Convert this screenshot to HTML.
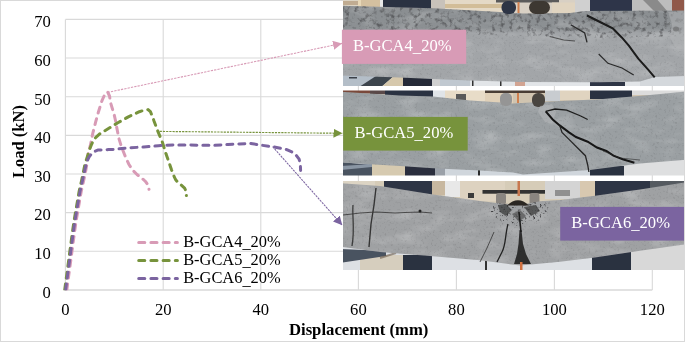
<!DOCTYPE html>
<html><head><meta charset="utf-8"><style>html,body{margin:0;padding:0;background:#fff;width:685px;height:343px;overflow:hidden}svg{display:block}svg{will-change:transform}</style></head>
<body>
<svg width="685" height="343" viewBox="0 0 685 343">
<defs>
<clipPath id="c1"><rect x="343" y="0" width="341" height="86"/></clipPath>
<clipPath id="c2"><rect x="343" y="90.5" width="341" height="85"/></clipPath>
<clipPath id="c3"><rect x="343" y="181" width="341" height="89"/></clipPath>
<marker id="ap" viewBox="0 0 10 10" refX="10" refY="5" markerWidth="9" markerHeight="9" markerUnits="userSpaceOnUse" orient="auto"><path d="M0,0 L10,5 L0,10 z" fill="#d89bb6"/></marker>
<marker id="ag" viewBox="0 0 10 10" refX="10" refY="5" markerWidth="9" markerHeight="9" markerUnits="userSpaceOnUse" orient="auto"><path d="M0,0 L10,5 L0,10 z" fill="#77933c"/></marker>
<marker id="au" viewBox="0 0 10 10" refX="10" refY="5" markerWidth="9" markerHeight="9" markerUnits="userSpaceOnUse" orient="auto"><path d="M0,0 L10,5 L0,10 z" fill="#7b64a0"/></marker>
</defs>
<rect x="0" y="0" width="685" height="343" fill="#fff"/>
<rect x="0.5" y="0.5" width="684" height="341" fill="#fff" stroke="#d9d9d9" stroke-width="1"/>
<line x1="163.2" y1="19.41999999999996" x2="163.2" y2="289.9" stroke="#d9d9d9" stroke-width="1.1"/>
<line x1="260.8" y1="19.41999999999996" x2="260.8" y2="289.9" stroke="#d9d9d9" stroke-width="1.1"/>
<line x1="358.4" y1="19.41999999999996" x2="358.4" y2="289.9" stroke="#d9d9d9" stroke-width="1.1"/>
<line x1="456.4" y1="19.41999999999996" x2="456.4" y2="289.9" stroke="#d9d9d9" stroke-width="1.1"/>
<line x1="554.4" y1="19.41999999999996" x2="554.4" y2="289.9" stroke="#d9d9d9" stroke-width="1.1"/>
<line x1="652.3" y1="19.41999999999996" x2="652.3" y2="289.9" stroke="#d9d9d9" stroke-width="1.1"/>
<line x1="65.4" y1="251.26" x2="652.3" y2="251.26" stroke="#d9d9d9" stroke-width="1.1"/>
<line x1="65.4" y1="212.62" x2="652.3" y2="212.62" stroke="#d9d9d9" stroke-width="1.1"/>
<line x1="65.4" y1="173.98" x2="652.3" y2="173.98" stroke="#d9d9d9" stroke-width="1.1"/>
<line x1="65.4" y1="135.34" x2="652.3" y2="135.34" stroke="#d9d9d9" stroke-width="1.1"/>
<line x1="65.4" y1="96.70" x2="652.3" y2="96.70" stroke="#d9d9d9" stroke-width="1.1"/>
<line x1="65.4" y1="58.06" x2="652.3" y2="58.06" stroke="#d9d9d9" stroke-width="1.1"/>
<line x1="65.4" y1="19.42" x2="652.3" y2="19.42" stroke="#d9d9d9" stroke-width="1.1"/>
<line x1="65.4" y1="19.41999999999996" x2="65.4" y2="289.9" stroke="#d9d9d9" stroke-width="1.1"/>
<line x1="65.4" y1="289.9" x2="652.3" y2="289.9" stroke="#d9d9d9" stroke-width="1.5"/>
<text x="50.8" y="297.7" font-family="Liberation Serif, serif" font-size="16.6" text-anchor="end" fill="#000">0</text>
<text x="50.8" y="259.1" font-family="Liberation Serif, serif" font-size="16.6" text-anchor="end" fill="#000">10</text>
<text x="50.8" y="220.4" font-family="Liberation Serif, serif" font-size="16.6" text-anchor="end" fill="#000">20</text>
<text x="50.8" y="181.8" font-family="Liberation Serif, serif" font-size="16.6" text-anchor="end" fill="#000">30</text>
<text x="50.8" y="143.1" font-family="Liberation Serif, serif" font-size="16.6" text-anchor="end" fill="#000">40</text>
<text x="50.8" y="104.5" font-family="Liberation Serif, serif" font-size="16.6" text-anchor="end" fill="#000">50</text>
<text x="50.8" y="65.9" font-family="Liberation Serif, serif" font-size="16.6" text-anchor="end" fill="#000">60</text>
<text x="50.8" y="27.2" font-family="Liberation Serif, serif" font-size="16.6" text-anchor="end" fill="#000">70</text>
<text x="65.4" y="315.0" font-family="Liberation Serif, serif" font-size="16.6" text-anchor="middle" fill="#000">0</text>
<text x="163.2" y="315.0" font-family="Liberation Serif, serif" font-size="16.6" text-anchor="middle" fill="#000">20</text>
<text x="260.8" y="315.0" font-family="Liberation Serif, serif" font-size="16.6" text-anchor="middle" fill="#000">40</text>
<text x="358.4" y="315.0" font-family="Liberation Serif, serif" font-size="16.6" text-anchor="middle" fill="#000">60</text>
<text x="456.4" y="315.0" font-family="Liberation Serif, serif" font-size="16.6" text-anchor="middle" fill="#000">80</text>
<text x="554.4" y="315.0" font-family="Liberation Serif, serif" font-size="16.6" text-anchor="middle" fill="#000">100</text>
<text x="652.3" y="315.0" font-family="Liberation Serif, serif" font-size="16.6" text-anchor="middle" fill="#000">120</text>
<text x="358.7" y="334.5" font-family="Liberation Serif, serif" font-size="16.7" font-weight="bold" text-anchor="middle" fill="#000">Displacement (mm)</text>
<text transform="translate(23.8,141.5) rotate(-90)" font-family="Liberation Serif, serif" font-size="16.5" font-weight="bold" text-anchor="middle" fill="#000">Load (kN)</text>
<line x1="138.7" y1="242.4" x2="177.4" y2="242.4" stroke="#d89bb6" stroke-width="3" stroke-linecap="round" stroke-dasharray="6.1 6.1"/>
<text x="183.2" y="246.9" font-family="Liberation Serif, serif" font-size="16.4" fill="#000">B-GCA4<tspan dy="1.5">_</tspan><tspan dy="-1.5">20%</tspan></text>
<line x1="138.7" y1="260.4" x2="177.4" y2="260.4" stroke="#77933c" stroke-width="3" stroke-linecap="round" stroke-dasharray="6.1 6.1"/>
<text x="183.2" y="264.9" font-family="Liberation Serif, serif" font-size="16.4" fill="#000">B-GCA5<tspan dy="1.5">_</tspan><tspan dy="-1.5">20%</tspan></text>
<line x1="138.7" y1="278.5" x2="177.4" y2="278.5" stroke="#7b64a0" stroke-width="3" stroke-linecap="round" stroke-dasharray="6.1 6.1"/>
<text x="183.2" y="283.0" font-family="Liberation Serif, serif" font-size="16.4" fill="#000">B-GCA6<tspan dy="1.5">_</tspan><tspan dy="-1.5">20%</tspan></text>
<defs>
<filter id="tex" x="0" y="0" width="100%" height="100%" color-interpolation-filters="sRGB">
 <feTurbulence type="fractalNoise" baseFrequency="0.45" numOctaves="2" seed="3" result="n"/>
 <feColorMatrix in="n" type="matrix" values="0 0 0 0 0.25  0 0 0 0 0.25  0 0 0 0 0.26  4.5 0 0 0 -2.55" result="d"/>
 <feComposite in="d" in2="SourceGraphic" operator="in"/>
</filter>
<filter id="rough" x="0" y="0" width="100%" height="100%" color-interpolation-filters="sRGB">
 <feTurbulence type="fractalNoise" baseFrequency="0.22" numOctaves="3" seed="5" result="n"/>
 <feColorMatrix in="n" type="matrix" values="0 0 0 0 0.22  0 0 0 0 0.22  0 0 0 0 0.23  3.2 0 0 0 -1.6" result="d"/>
 <feGaussianBlur in="d" stdDeviation="0.5" result="db"/>
 <feComposite in="db" in2="SourceGraphic" operator="in"/>
</filter>
<filter id="mot" x="0" y="0" width="100%" height="100%" color-interpolation-filters="sRGB">
 <feTurbulence type="fractalNoise" baseFrequency="0.04 0.09" numOctaves="3" seed="7" result="n"/>
 <feColorMatrix in="n" type="matrix" values="0 0 0 0 1  0 0 0 0 1  0 0 0 0 1  0 2 0 0 -0.9" result="d"/>
 <feComposite in="d" in2="SourceGraphic" operator="in"/>
</filter>
<filter id="soft" x="-2%" y="-2%" width="104%" height="104%"><feGaussianBlur stdDeviation="0.6"/></filter>
<linearGradient id="b1" gradientUnits="userSpaceOnUse" x1="0" y1="6" x2="0" y2="80">
 <stop offset="0" stop-color="#8a8e91"/><stop offset="0.3" stop-color="#8c9093"/><stop offset="0.37" stop-color="#a1a4a7"/><stop offset="1" stop-color="#a3a6a9"/>
</linearGradient>
</defs>
<g clip-path="url(#c1)"><g filter="url(#soft)">
 <rect x="340" y="-3" width="347" height="92" fill="#d8d0c4"/>
 <rect x="340" y="-3" width="18" height="13" fill="#dcd4c4"/>
 <rect x="340" y="1" width="18" height="4" fill="#c0ac92"/>
 <rect x="358" y="-3" width="3" height="13" fill="#e8d8b8"/>
 <rect x="361" y="-3" width="19" height="13" fill="#d4c0a0"/>
 <rect x="380" y="-3" width="3" height="13" fill="#e8e8e8"/>
 <rect x="383" y="-3" width="48" height="15" fill="#2b3142"/>
 <rect x="431" y="-3" width="14" height="15" fill="#c8c2ba"/>
 <rect x="445" y="-3" width="60" height="17" fill="#e4d9c6"/>
 <rect x="445" y="4" width="60" height="4" fill="#d2bd98"/>
 <rect x="496" y="-3" width="63" height="5.5" fill="#5a5a5a"/>
 <rect x="552" y="2.5" width="23" height="12" fill="#e0d4c0"/>
 <rect x="575" y="-3" width="15" height="17" fill="#d0d0d0"/>
 <rect x="590" y="-3" width="42" height="15" fill="#2e3648"/>
 <rect x="632" y="-3" width="40" height="15" fill="#bdbdbd"/>
 <polygon points="640,-3 655,-3 668,12 655,12" fill="#8a8a8a"/>
 <rect x="672" y="-3" width="15" height="15" fill="#905848"/>
 <rect x="340" y="70" width="347" height="19" fill="#e2e5e8"/>
 <rect x="340" y="70" width="40" height="19" fill="#b4bec8"/>
 <rect x="349" y="77" width="8" height="1.5" fill="#3a4048"/>
 <polygon points="356,89 376,76 394,76 379,89" fill="#3e454e"/>
 <polygon points="379,89 394,76 403,76 403,89" fill="#d6c8ac"/>
 <rect x="403" y="76" width="29" height="13" fill="#282c38"/>
 <rect x="432" y="76" width="8" height="13" fill="#d0d0d0"/>
 <rect x="440" y="76" width="30" height="13" fill="#c0c8d0"/>
 <rect x="472" y="78" width="1.5" height="8" fill="#333"/>
 <rect x="500" y="78" width="1.5" height="8" fill="#333"/>
 <rect x="640" y="72" width="47" height="17" fill="#d4d8dc"/>
 <rect x="590" y="82" width="35" height="7" fill="#2e3444"/>
 <rect x="515" y="81" width="10" height="5" fill="#c87858" opacity="0.6"/>
 <path id="bm1" d="M340,5.6 L433,8.2 L500,12 L523,13.5 L570,13 L585,11 L687,10.5 L687,76 L655,77 L640,81.5 L600,82.3 L520,82 L470,80.5 L433,79 L400,77.5 L340,75.5 Z" fill="url(#b1)"/>
 <path d="M340,5.6 L433,8.2 L500,12 L523,13.5 L570,13 L585,11 L687,10.5 L687,76 L655,77 L640,81.5 L600,82.3 L520,82 L470,80.5 L433,79 L400,77.5 L340,75.5 Z" fill="#000" filter="url(#mot)" opacity="0.22"/>
 <path d="M340,5.6 L433,8.2 L500,12 L523,13.5 L570,13 L585,11 L687,10.5 L687,36 L600,38 L520,36 L433,33 L340,31 Z" fill="#000" filter="url(#rough)" opacity="0.55"/>
 <path d="M340,31 L433,33 L520,36 L600,38 L687,36 L687,76 L655,77 L640,81.5 L600,82.3 L520,82 L470,80.5 L433,79 L400,77.5 L340,75.5 Z" fill="#000" filter="url(#tex)" opacity="0.1"/>
 <rect x="501.5" y="1" width="14.5" height="13" rx="6" fill="#2e3444"/>
 <rect x="517.5" y="2" width="2" height="11" fill="#d08050"/>
 <rect x="529" y="1" width="21" height="13" rx="6.5" fill="#3e3832"/>
 <path d="M587,15.5 L601,22.5 L612.7,28.3 L622,37.7 L629,45.8 L638.3,58.7 L647.7,69.2 L654.7,77.3" stroke="#1a1a1a" stroke-width="2" fill="none"/>
 <path d="M570.7,24.8 L584.7,33 L587,42.3" stroke="#2a2a2a" stroke-width="1.3" fill="none"/>
 <path d="M549.7,36.5 L563.7,40 L575,41" stroke="#3a3a3a" stroke-width="1.1" fill="none" opacity="0.8"/>
 <path d="M598.7,54 L608,63.3 L622,68 L633.7,75" stroke="#2a2a2a" stroke-width="1.2" fill="none"/>
 <ellipse cx="676" cy="29" rx="3" ry="2.5" fill="#333" opacity="0.8"/>
 <path d="M668,12 L684,11 L684,50 L676,48 L670,38 L672,24 Z" fill="#b4b6b8" opacity="0.5"/>
</g></g>
<g clip-path="url(#c2)"><g filter="url(#soft)">
 <rect x="340" y="88" width="347" height="91" fill="#d0c4b0"/>
 <rect x="340" y="88" width="30" height="5.5" fill="#7a4a3a"/>
 <rect x="370" y="88" width="15" height="6" fill="#5a4a48"/>
 <rect x="385" y="88" width="48" height="9.5" fill="#2c3242"/>
 <rect x="433" y="88" width="12" height="12" fill="#e0e4e8"/>
 <rect x="445" y="88" width="40" height="14" fill="#e8dcc8"/>
 <rect x="456" y="94" width="10" height="6" fill="#5a5a5a"/>
 <rect x="485" y="88" width="28" height="16" fill="#e0d0b8"/>
 <rect x="485" y="88" width="60" height="5" fill="#4a3e36"/>
 <rect x="517" y="93" width="2" height="10" fill="#d08050"/>
 <rect x="545" y="88" width="15" height="13" fill="#c8ccd0"/>
 <rect x="560" y="88" width="30" height="12" fill="#e0d4c0"/>
 <rect x="590" y="88" width="42" height="11" fill="#2a3242"/>
 <rect x="632" y="88" width="55" height="7" fill="#dcdcdc"/>
 <rect x="340" y="158" width="347" height="21" fill="#d0d6dc"/>
 <polygon points="340,162 372,165 372,179 340,179" fill="#4a5260"/>
 <polygon points="340,166 372,164 372,167 340,170" fill="#8a96a4"/>
 <rect x="372" y="164" width="33" height="15" fill="#d6cab0"/>
 <rect x="405" y="165" width="30" height="14" fill="#2a2e3c"/>
 <rect x="435" y="165" width="10" height="14" fill="#9aa0a8"/>
 <rect x="478" y="168" width="2" height="10" fill="#2a2a2a"/>
 <rect x="590" y="166" width="35" height="13" fill="#2a3040"/>
 <rect x="624" y="158" width="63" height="21" fill="#dedfe0"/>
 <path d="M340,91.6 L400,95.4 L433,96.5 L470,100.4 L513,103.4 L545,101.8 L600,99.3 L650,95 L687,91.5 L687,159.7 L640,163.6 L590,170 L523,174.5 L513,172.5 L480,170.5 L433,168.2 L400,166 L340,162.4 Z" fill="#9a9fa2"/>
 <path d="M340,91.6 L400,95.4 L433,96.5 L470,100.4 L513,103.4 L545,101.8 L600,99.3 L650,95 L687,91.5 L687,159.7 L640,163.6 L590,170 L523,174.5 L513,172.5 L480,170.5 L433,168.2 L400,166 L340,162.4 Z" fill="#000" filter="url(#mot)" opacity="0.22"/>
 <path d="M340,91.6 L400,95.4 L433,96.5 L470,100.4 L513,103.4 L545,101.8 L600,99.3 L650,95 L687,91.5 L687,159.7 L640,163.6 L590,170 L523,174.5 L513,172.5 L480,170.5 L433,168.2 L400,166 L340,162.4 Z" fill="#000" filter="url(#tex)" opacity="0.12"/>
 <rect x="500" y="93" width="12" height="13" rx="5" fill="#959595"/>
 <rect x="532" y="93" width="13" height="14" rx="6" fill="#4a4440"/>
 <path d="M540,106 L552,104 L556,112 L552,124 L545,122 L538,112 Z" fill="#b8babc" opacity="0.5"/>
 <path d="M545.7,111.3 L555,109 L566.7,110.2 L580.7,116 L587.7,119.5" stroke="#1e1e1e" stroke-width="1.3" fill="none"/>
 <path d="M545.7,111.3 L552.7,119.5 L559.7,125.4 L569,132.4 L576,137 L587.7,141.7 L597,147.5 L606.4,151 L613.4,155.7 L622.7,159.2 L634.4,162.7" stroke="#161616" stroke-width="2" fill="none"/>
 <path d="M559.7,125.4 L562,132.4 L569,139.4 L578.4,148.7 L585.4,155.7 L587.7,165 L588.9,172" stroke="#262626" stroke-width="1.3" fill="none"/>
 <path d="M603,151 L620,158 L640,160" stroke="#2a2a2a" stroke-width="1" fill="none" opacity="0.6"/>
</g></g>
<g clip-path="url(#c3)"><g filter="url(#soft)">
 <rect x="340" y="178" width="347" height="95" fill="#d6ccb8"/>
 <rect x="340" y="178" width="35" height="11" fill="#dcd4c4"/>
 <rect x="384" y="178" width="48" height="17" fill="#2e3444"/>
 <rect x="432" y="178" width="13" height="17" fill="#c8b8a0"/>
 <rect x="445" y="178" width="15" height="19" fill="#e8e8e8"/>
 <rect x="460" y="178" width="45" height="23" fill="#ddd2c0"/>
 <rect x="468" y="193" width="6" height="5" fill="#3a3a3a"/>
 <rect x="482.5" y="190" width="69.5" height="3.7" fill="#303030"/>
 <rect x="517.5" y="178" width="2.5" height="18" fill="#c87850"/>
 <rect x="496" y="193" width="10" height="12" rx="3" fill="#8a8580"/>
 <rect x="529.5" y="193" width="10" height="12" rx="3" fill="#8a8580"/>
 <rect x="545" y="178" width="35" height="21" fill="#d4d4d4"/>
 <rect x="555" y="190" width="15" height="6" fill="#909090"/>
 <rect x="580" y="178" width="15" height="19" fill="#d8c8b0"/>
 <rect x="595" y="178" width="55" height="18" fill="#2e3444"/>
 <rect x="650" y="178" width="37" height="11" fill="#555a60"/>
 <rect x="340" y="244" width="347" height="29" fill="#dde0e4"/>
 <rect x="360" y="255" width="43" height="18" fill="#d6cebe"/>
 <polygon points="340,249 386,251 386,256 340,263" fill="#4a5260"/>
 <path d="M380,258 L396,253" stroke="#6a5a4a" stroke-width="2" opacity="0.6"/>
 <rect x="403" y="255" width="29" height="18" fill="#2a3040"/>
 <rect x="485" y="258" width="2" height="12" fill="#333"/>
 <rect x="592" y="250" width="39" height="23" fill="#2a3040"/>
 <rect x="631" y="244" width="56" height="29" fill="#d8d8d8"/>
 <path d="M340,183.3 L380,186 L433,194.5 L480,201 L505,204 L520,205 L540,201.3 L560,200 L595,195.8 L640,189.5 L687,182 L687,244 L640,250.7 L595,257.6 L560,261.7 L520,265.5 L505,263.5 L480,260.3 L433,256.2 L380,252 L340,246.5 Z" fill="#9fa1a3"/>
 <path d="M340,183.3 L380,186 L433,194.5 L480,201 L505,204 L520,205 L540,201.3 L560,200 L595,195.8 L640,189.5 L687,182 L687,244 L640,250.7 L595,257.6 L560,261.7 L520,265.5 L505,263.5 L480,260.3 L433,256.2 L380,252 L340,246.5 Z" fill="#000" filter="url(#mot)" opacity="0.22"/>
 <path d="M340,183.3 L380,186 L433,194.5 L480,201 L505,204 L520,205 L540,201.3 L560,200 L595,195.8 L640,189.5 L687,182 L687,244 L640,250.7 L595,257.6 L560,261.7 L520,265.5 L505,263.5 L480,260.3 L433,256.2 L380,252 L340,246.5 Z" fill="#000" filter="url(#tex)" opacity="0.12"/>
 <path d="M488,204 L506,203 L520,206 L535,202 L550,203 L548,212 L538,222 L528,220 L520,228 L510,222 L500,224 L492,214 Z" fill="#000" filter="url(#tex)" opacity="1"/>
 <path d="M498,205 L506,204 L512,210 L506,216 L500,212 Z" fill="#333" opacity="0.7"/>
 <path d="M524,207 L536,205 L540,211 L531,216 Z" fill="#333" opacity="0.7"/>
 <path d="M512,214 L520,210 L526,216 L519,222 Z" fill="#444" opacity="0.6"/>
 <path d="M507,205.5 Q518,195 529,205.5 Z" fill="#2a2520"/>
 <path d="M519,212 L520,222 L521,232" stroke="#1e1e1e" stroke-width="1.6" fill="none"/>
 <path d="M519.5,230 L521.5,230 L523,244 L526,254 L531,264 L514,264 L517,254 L518.5,244 Z" fill="#1a1a1a" opacity="0.85"/>
 <path d="M508,224 C505,235 506,245 502,252 L497,262" stroke="#222" stroke-width="1.3" fill="none"/>
 <rect x="520" y="262" width="2.5" height="8" fill="#d07040"/>
 <path d="M494,232 L487,248 L480,262" stroke="#333" stroke-width="1" fill="none" opacity="0.8"/>
 <path d="M353,205 C352,215 355,230 352,246" stroke="#3c3c3c" stroke-width="1.3" fill="none"/>
 <path d="M376,188 L374,205 L371,224 L369,247" stroke="#353535" stroke-width="1.4" fill="none"/>
 <path d="M343,215 L352,214 L360,213 L376,212 L395,213 L405,212.5 L420,212 L432,213" stroke="#3a3a3a" stroke-width="1.1" fill="none" opacity="0.85"/>
 <circle cx="420" cy="211" r="1.5" fill="#222"/>
</g></g>

<clipPath id="plotc"><rect x="60" y="0" width="600" height="290.2"/></clipPath>
<polyline clip-path="url(#plotc)" points="66.8,290.0 68.0,281.0 69.2,272.0 70.7,261.0 72.0,251.0 74.0,236.0 76.1,221.0 78.7,206.0 81.3,191.0 83.7,180.5 85.5,172.0 87.2,162.5 87.9,154.5 90.3,145.7 92.7,133.7 95.6,122.2 98.5,111.7 102.0,100.6 104.5,95.0 107.6,91.9 109.5,96.0 110.8,103.5 112.6,109.5 114.3,115.2 115.6,121.0 116.6,126.8 118.9,138.5 121.5,147.0 125.7,157.4 129.0,164.5 132.7,170.2 137.0,174.5 142.0,178.4 145.5,181.5 147.9,184.8 149.0,189.3" fill="none" stroke="#d89bb6" stroke-width="3" stroke-linecap="round" stroke-linejoin="round" stroke-dasharray="6 6"/>
<polyline clip-path="url(#plotc)" points="64.7,290.0 65.9,281.0 67.1,272.0 68.6,261.0 69.9,251.0 71.9,236.0 74.0,221.0 76.6,206.0 79.2,191.0 81.6,180.5 83.4,172.0 85.1,163.5 87.9,155.0 89.5,149.7 91.5,144.5 93.5,140.5 95.6,137.6 99.7,133.9 107.3,129.2 117.8,122.8 128.3,116.9 139.4,111.7 145.0,110.0 148.1,109.6 150.4,111.7 152.7,117.0 154.0,121.0 158.0,131.7 162.4,142.2 165.9,153.6 168.5,161.0 171.5,169.7 173.5,175.0 175.5,179.5 178.0,182.5 181.1,185.0 184.6,188.1 186.0,191.0 186.4,195.6" fill="none" stroke="#77933c" stroke-width="3" stroke-linecap="round" stroke-linejoin="round" stroke-dasharray="6 6"/>
<polyline clip-path="url(#plotc)" points="65.6,290.0 66.8,281.0 68.0,272.0 69.5,261.0 70.8,251.0 72.8,236.0 74.9,221.0 77.5,206.0 80.1,191.0 82.5,180.5 84.3,172.0 85.9,165.5 87.6,160.0 89.2,156.8 91.0,154.5 94.8,151.3 98.3,149.9 103.9,150.0 108.7,149.6 114.6,149.3 122.0,148.5 129.2,147.8 143.8,147.0 158.4,145.7 173.0,144.9 187.6,144.9 201.4,145.3 214.7,145.3 228.0,144.5 239.3,144.0 250.7,143.4 262.1,145.3 275.4,147.2 286.8,149.7 293.0,152.5 296.3,155.4 299.1,159.2 300.3,164.0 300.6,170.5" fill="none" stroke="#7b64a0" stroke-width="3" stroke-linecap="round" stroke-linejoin="round" stroke-dasharray="6 6"/>
<line x1="107.6" y1="92.4" x2="342" y2="43.4" stroke="#d89bb6" stroke-width="1.1" stroke-dasharray="2.3 1.1" marker-end="url(#ap)"/>
<line x1="159.7" y1="131.4" x2="342.5" y2="133.3" stroke="#77933c" stroke-width="1.15" stroke-dasharray="2.2 1" marker-end="url(#ag)"/>
<line x1="272.6" y1="146.6" x2="342.3" y2="225.3" stroke="#7b64a0" stroke-width="1.05" stroke-dasharray="2.2 0.9" marker-end="url(#au)"/>
<rect x="341.9" y="29.7" width="124.3" height="34.2" fill="#d89bb6"/>
<text x="352.9" y="50.7" font-family="Liberation Serif, serif" font-size="16.6" fill="#fff">B-GCA4<tspan dy="1.5">_</tspan><tspan dy="-1.5">20%</tspan></text>
<rect x="343.2" y="116.9" width="124.5" height="33.7" fill="#77933c"/>
<text x="354.6" y="137.9" font-family="Liberation Serif, serif" font-size="16.6" fill="#fff">B-GCA5<tspan dy="1.5">_</tspan><tspan dy="-1.5">20%</tspan></text>
<rect x="560.2" y="206.9" width="123.8" height="33.7" fill="#7b64a0"/>
<text x="571.3" y="227.9" font-family="Liberation Serif, serif" font-size="16.6" fill="#fff">B-GCA6<tspan dy="1.5">_</tspan><tspan dy="-1.5">20%</tspan></text>
</svg>
</body></html>
